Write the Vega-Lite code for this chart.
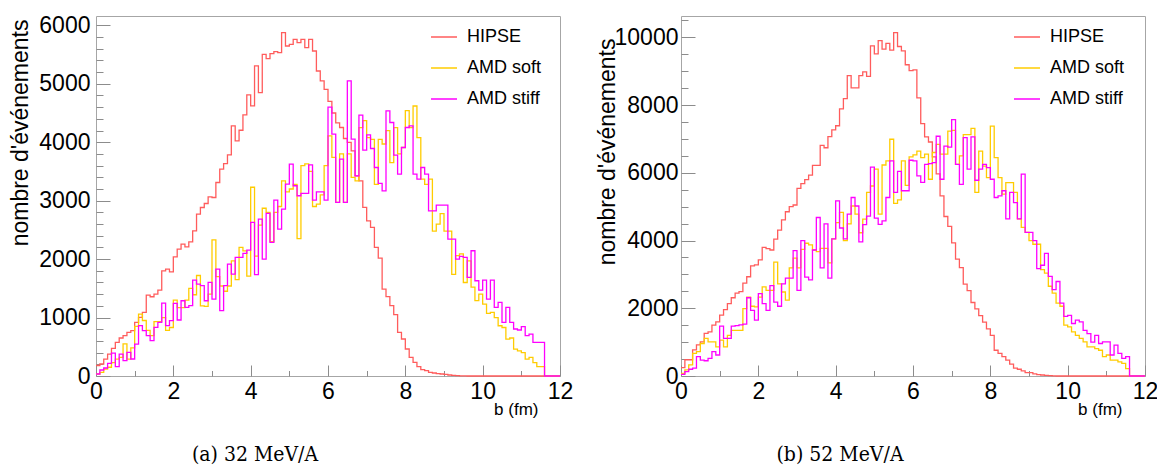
{
"$schema": "https://vega.github.io/schema/vega-lite/v6.json",
"background": "white",
"padding": {"left": 8, "top": 8, "right": 5, "bottom": 5},
"bounds": "flush",
"spacing": 121,
"config": {
  "view": {"stroke": "#a6a6a6", "strokeWidth": 1},
  "font": "Liberation Sans",
  "axis": {"grid": false, "domain": false, "tickColor": "#8c8c8c", "tickWidth": 1, "labelFont": "Liberation Sans", "labelColor": "black", "labelFontSize": 23, "labelOverlap": false, "labelFlush": false, "labelBound": false, "titleFont": "Liberation Sans", "titleFontWeight": "normal", "titleColor": "black"},
  "legend": {"orient": "none", "title": null, "symbolType": "stroke", "symbolSize": 676, "symbolStrokeWidth": 1.5, "labelFont": "Liberation Sans", "labelFontSize": 18, "labelColor": "black", "labelOffset": 9, "rowPadding": 8, "labelLimit": 0, "padding": 0},
  "title": {"font": "DejaVu Serif Condensed, Liberation Serif, serif", "fontSize": 21, "fontWeight": "normal", "color": "black"}
},
"resolve": {"scale": {"color": "independent"}, "legend": {"color": "independent"}},
"datasets": {
"a": [
{"b":0,"HIPSE":180,"AMD soft":34,"AMD stiff":34},
{"b":0.1,"HIPSE":205,"AMD soft":63,"AMD stiff":103},
{"b":0.2,"HIPSE":290,"AMD soft":120,"AMD stiff":137},
{"b":0.3,"HIPSE":376,"AMD soft":150,"AMD stiff":217},
{"b":0.4,"HIPSE":473,"AMD soft":230,"AMD stiff":393},
{"b":0.5,"HIPSE":575,"AMD soft":290,"AMD stiff":160},
{"b":0.6,"HIPSE":650,"AMD soft":320,"AMD stiff":376},
{"b":0.7,"HIPSE":690,"AMD soft":550,"AMD stiff":262},
{"b":0.8,"HIPSE":747,"AMD soft":290,"AMD stiff":405},
{"b":0.9,"HIPSE":775,"AMD soft":480,"AMD stiff":291},
{"b":1.0,"HIPSE":918,"AMD soft":850,"AMD stiff":547},
{"b":1.1,"HIPSE":1003,"AMD soft":1060,"AMD stiff":861},
{"b":1.2,"HIPSE":1088,"AMD soft":950,"AMD stiff":775},
{"b":1.3,"HIPSE":1385,"AMD soft":780,"AMD stiff":690},
{"b":1.4,"HIPSE":1356,"AMD soft":690,"AMD stiff":604},
{"b":1.5,"HIPSE":1402,"AMD soft":930,"AMD stiff":832},
{"b":1.6,"HIPSE":1470,"AMD soft":930,"AMD stiff":918},
{"b":1.7,"HIPSE":1800,"AMD soft":1000,"AMD stiff":1248},
{"b":1.8,"HIPSE":1830,"AMD soft":780,"AMD stiff":861},
{"b":1.9,"HIPSE":1783,"AMD soft":830,"AMD stiff":946},
{"b":2.0,"HIPSE":2040,"AMD soft":1300,"AMD stiff":1243},
{"b":2.1,"HIPSE":2171,"AMD soft":1170,"AMD stiff":958},
{"b":2.2,"HIPSE":2257,"AMD soft":1170,"AMD stiff":1288},
{"b":2.3,"HIPSE":2211,"AMD soft":1300,"AMD stiff":1174},
{"b":2.4,"HIPSE":2296,"AMD soft":1500,"AMD stiff":1203},
{"b":2.5,"HIPSE":2484,"AMD soft":1390,"AMD stiff":1642},
{"b":2.6,"HIPSE":2769,"AMD soft":1720,"AMD stiff":1573},
{"b":2.7,"HIPSE":2883,"AMD soft":1200,"AMD stiff":1545},
{"b":2.8,"HIPSE":2952,"AMD soft":1190,"AMD stiff":1288},
{"b":2.9,"HIPSE":3066,"AMD soft":1400,"AMD stiff":1602},
{"b":3.0,"HIPSE":3054,"AMD soft":2330,"AMD stiff":1317},
{"b":3.1,"HIPSE":3311,"AMD soft":1700,"AMD stiff":1830},
{"b":3.2,"HIPSE":3539,"AMD soft":1540,"AMD stiff":1117},
{"b":3.3,"HIPSE":3635,"AMD soft":1450,"AMD stiff":1545},
{"b":3.4,"HIPSE":3783,"AMD soft":1540,"AMD stiff":1915},
{"b":3.5,"HIPSE":4279,"AMD soft":1970,"AMD stiff":1744},
{"b":3.6,"HIPSE":4023,"AMD soft":1650,"AMD stiff":2029},
{"b":3.7,"HIPSE":4205,"AMD soft":2200,"AMD stiff":2029},
{"b":3.8,"HIPSE":4467,"AMD soft":2140,"AMD stiff":2098},
{"b":3.9,"HIPSE":4809,"AMD soft":1710,"AMD stiff":2155},
{"b":4.0,"HIPSE":4621,"AMD soft":3230,"AMD stiff":2628},
{"b":4.1,"HIPSE":5305,"AMD soft":2050,"AMD stiff":1733},
{"b":4.2,"HIPSE":4849,"AMD soft":2580,"AMD stiff":2685},
{"b":4.3,"HIPSE":5504,"AMD soft":2870,"AMD stiff":2001},
{"b":4.4,"HIPSE":5430,"AMD soft":2800,"AMD stiff":2782},
{"b":4.5,"HIPSE":5516,"AMD soft":2300,"AMD stiff":2286},
{"b":4.6,"HIPSE":5550,"AMD soft":2800,"AMD stiff":3010},
{"b":4.7,"HIPSE":5533,"AMD soft":2900,"AMD stiff":2514},
{"b":4.8,"HIPSE":5875,"AMD soft":3340,"AMD stiff":2856},
{"b":4.9,"HIPSE":5647,"AMD soft":3150,"AMD stiff":3283},
{"b":5.0,"HIPSE":5675,"AMD soft":3200,"AMD stiff":3625},
{"b":5.1,"HIPSE":5761,"AMD soft":3280,"AMD stiff":3255},
{"b":5.2,"HIPSE":5704,"AMD soft":2350,"AMD stiff":3084},
{"b":5.3,"HIPSE":5761,"AMD soft":3600,"AMD stiff":3124},
{"b":5.4,"HIPSE":5618,"AMD soft":3630,"AMD stiff":3124},
{"b":5.5,"HIPSE":5761,"AMD soft":3500,"AMD stiff":3614},
{"b":5.6,"HIPSE":5561,"AMD soft":2900,"AMD stiff":3010},
{"b":5.7,"HIPSE":5219,"AMD soft":2940,"AMD stiff":3150},
{"b":5.8,"HIPSE":5050,"AMD soft":3100,"AMD stiff":3150},
{"b":5.9,"HIPSE":4906,"AMD soft":3600,"AMD stiff":3010},
{"b":6.0,"HIPSE":4700,"AMD soft":4110,"AMD stiff":4600},
{"b":6.1,"HIPSE":4500,"AMD soft":3740,"AMD stiff":4138},
{"b":6.2,"HIPSE":4330,"AMD soft":2970,"AMD stiff":2970},
{"b":6.3,"HIPSE":4252,"AMD soft":3800,"AMD stiff":3711},
{"b":6.4,"HIPSE":4064,"AMD soft":2970,"AMD stiff":2970},
{"b":6.5,"HIPSE":3996,"AMD soft":3800,"AMD stiff":5050},
{"b":6.6,"HIPSE":3853,"AMD soft":3400,"AMD stiff":4053},
{"b":6.7,"HIPSE":3426,"AMD soft":3340,"AMD stiff":3426},
{"b":6.8,"HIPSE":3340,"AMD soft":4250,"AMD stiff":4463},
{"b":6.9,"HIPSE":2884,"AMD soft":4370,"AMD stiff":3865},
{"b":7.0,"HIPSE":2656,"AMD soft":4080,"AMD stiff":4127},
{"b":7.1,"HIPSE":2542,"AMD soft":4050,"AMD stiff":3893},
{"b":7.2,"HIPSE":2200,"AMD soft":3280,"AMD stiff":3568},
{"b":7.3,"HIPSE":2018,"AMD soft":4050,"AMD stiff":3295},
{"b":7.4,"HIPSE":1488,"AMD soft":3970,"AMD stiff":3169},
{"b":7.5,"HIPSE":1357,"AMD soft":4200,"AMD stiff":4537},
{"b":7.6,"HIPSE":1203,"AMD soft":3650,"AMD stiff":4338},
{"b":7.7,"HIPSE":1049,"AMD soft":4250,"AMD stiff":3779},
{"b":7.8,"HIPSE":747,"AMD soft":3800,"AMD stiff":3454},
{"b":7.9,"HIPSE":633,"AMD soft":3910,"AMD stiff":3910},
{"b":8.0,"HIPSE":462,"AMD soft":4540,"AMD stiff":4252},
{"b":8.1,"HIPSE":319,"AMD soft":4250,"AMD stiff":4281},
{"b":8.2,"HIPSE":234,"AMD soft":4620,"AMD stiff":3454},
{"b":8.3,"HIPSE":160,"AMD soft":4080,"AMD stiff":3369},
{"b":8.4,"HIPSE":108,"AMD soft":3370,"AMD stiff":3568},
{"b":8.5,"HIPSE":91,"AMD soft":3280,"AMD stiff":3454},
{"b":8.6,"HIPSE":63,"AMD soft":3370,"AMD stiff":2827},
{"b":8.7,"HIPSE":51,"AMD soft":2480,"AMD stiff":2827},
{"b":8.8,"HIPSE":40,"AMD soft":2600,"AMD stiff":2924},
{"b":8.9,"HIPSE":34,"AMD soft":2780,"AMD stiff":2924},
{"b":9.0,"HIPSE":28,"AMD soft":2480,"AMD stiff":2924},
{"b":9.1,"HIPSE":17,"AMD soft":2480,"AMD stiff":2343},
{"b":9.2,"HIPSE":11,"AMD soft":1740,"AMD stiff":2343},
{"b":9.3,"HIPSE":6,"AMD soft":2060,"AMD stiff":2000},
{"b":9.4,"HIPSE":3,"AMD soft":2090,"AMD stiff":2046},
{"b":9.5,"HIPSE":2,"AMD soft":1600,"AMD stiff":2029},
{"b":9.6,"HIPSE":0,"AMD soft":1970,"AMD stiff":1687},
{"b":9.7,"HIPSE":0,"AMD soft":1520,"AMD stiff":2143},
{"b":9.8,"HIPSE":0,"AMD soft":1290,"AMD stiff":1630},
{"b":9.9,"HIPSE":0,"AMD soft":1400,"AMD stiff":1470},
{"b":10.0,"HIPSE":0,"AMD soft":1230,"AMD stiff":1642},
{"b":10.1,"HIPSE":0,"AMD soft":1070,"AMD stiff":1317},
{"b":10.2,"HIPSE":0,"AMD soft":1090,"AMD stiff":1642},
{"b":10.3,"HIPSE":0,"AMD soft":1000,"AMD stiff":1174},
{"b":10.4,"HIPSE":0,"AMD soft":860,"AMD stiff":1260},
{"b":10.5,"HIPSE":0,"AMD soft":830,"AMD stiff":918},
{"b":10.6,"HIPSE":0,"AMD soft":630,"AMD stiff":1174},
{"b":10.7,"HIPSE":0,"AMD soft":650,"AMD stiff":918},
{"b":10.8,"HIPSE":0,"AMD soft":460,"AMD stiff":804},
{"b":10.9,"HIPSE":0,"AMD soft":430,"AMD stiff":787},
{"b":11.0,"HIPSE":0,"AMD soft":400,"AMD stiff":844},
{"b":11.1,"HIPSE":0,"AMD soft":290,"AMD stiff":690},
{"b":11.2,"HIPSE":0,"AMD soft":320,"AMD stiff":718},
{"b":11.3,"HIPSE":0,"AMD soft":230,"AMD stiff":576},
{"b":11.4,"HIPSE":0,"AMD soft":160,"AMD stiff":576},
{"b":11.5,"HIPSE":0,"AMD soft":160,"AMD stiff":576},
{"b":11.6,"HIPSE":0,"AMD soft":0,"AMD stiff":0},
{"b":11.7,"HIPSE":0,"AMD soft":0,"AMD stiff":0},
{"b":11.8,"HIPSE":0,"AMD soft":0,"AMD stiff":0},
{"b":11.9,"HIPSE":0,"AMD soft":0,"AMD stiff":0},
{"b":12.0,"HIPSE":0,"AMD soft":0,"AMD stiff":0}
],
"b": [
{"b":0,"HIPSE":250,"AMD soft":80,"AMD stiff":50},
{"b":0.1,"HIPSE":480,"AMD soft":180,"AMD stiff":130},
{"b":0.2,"HIPSE":480,"AMD soft":330,"AMD stiff":200},
{"b":0.3,"HIPSE":770,"AMD soft":670,"AMD stiff":230},
{"b":0.4,"HIPSE":920,"AMD soft":720,"AMD stiff":570},
{"b":0.5,"HIPSE":1010,"AMD soft":960,"AMD stiff":470},
{"b":0.6,"HIPSE":1260,"AMD soft":1110,"AMD stiff":450},
{"b":0.7,"HIPSE":1300,"AMD soft":1010,"AMD stiff":520},
{"b":0.8,"HIPSE":1500,"AMD soft":1010,"AMD stiff":720},
{"b":0.9,"HIPSE":1600,"AMD soft":860,"AMD stiff":620},
{"b":1.0,"HIPSE":1800,"AMD soft":1060,"AMD stiff":1470},
{"b":1.1,"HIPSE":1960,"AMD soft":860,"AMD stiff":1110},
{"b":1.2,"HIPSE":2140,"AMD soft":1200,"AMD stiff":1110},
{"b":1.3,"HIPSE":2310,"AMD soft":1350,"AMD stiff":1470},
{"b":1.4,"HIPSE":2450,"AMD soft":1350,"AMD stiff":1490},
{"b":1.5,"HIPSE":2490,"AMD soft":1350,"AMD stiff":1510},
{"b":1.6,"HIPSE":2740,"AMD soft":1990,"AMD stiff":1530},
{"b":1.7,"HIPSE":2930,"AMD soft":2330,"AMD stiff":2310},
{"b":1.8,"HIPSE":3250,"AMD soft":2060,"AMD stiff":1940},
{"b":1.9,"HIPSE":3280,"AMD soft":2040,"AMD stiff":1650},
{"b":2.0,"HIPSE":3430,"AMD soft":2330,"AMD stiff":2430},
{"b":2.1,"HIPSE":3800,"AMD soft":2630,"AMD stiff":2140},
{"b":2.2,"HIPSE":3760,"AMD soft":2530,"AMD stiff":1940},
{"b":2.3,"HIPSE":3720,"AMD soft":2530,"AMD stiff":2670},
{"b":2.4,"HIPSE":4040,"AMD soft":3360,"AMD stiff":2180},
{"b":2.5,"HIPSE":4310,"AMD soft":2720,"AMD stiff":2060},
{"b":2.6,"HIPSE":4610,"AMD soft":2480,"AMD stiff":2720},
{"b":2.7,"HIPSE":4850,"AMD soft":2240,"AMD stiff":2890},
{"b":2.8,"HIPSE":5000,"AMD soft":3190,"AMD stiff":2890},
{"b":2.9,"HIPSE":5050,"AMD soft":3480,"AMD stiff":3700},
{"b":3.0,"HIPSE":5540,"AMD soft":3190,"AMD stiff":2530},
{"b":3.1,"HIPSE":5680,"AMD soft":3740,"AMD stiff":4000},
{"b":3.2,"HIPSE":5800,"AMD soft":3920,"AMD stiff":2920},
{"b":3.3,"HIPSE":5930,"AMD soft":3870,"AMD stiff":2840},
{"b":3.4,"HIPSE":6220,"AMD soft":3720,"AMD stiff":3720},
{"b":3.5,"HIPSE":6220,"AMD soft":3670,"AMD stiff":4680},
{"b":3.6,"HIPSE":6810,"AMD soft":3770,"AMD stiff":3190},
{"b":3.7,"HIPSE":6740,"AMD soft":3770,"AMD stiff":4490},
{"b":3.8,"HIPSE":7070,"AMD soft":3340,"AMD stiff":2890},
{"b":3.9,"HIPSE":7270,"AMD soft":4050,"AMD stiff":4050},
{"b":4.0,"HIPSE":7390,"AMD soft":4530,"AMD stiff":5170},
{"b":4.1,"HIPSE":7890,"AMD soft":4830,"AMD stiff":4370},
{"b":4.2,"HIPSE":8190,"AMD soft":4000,"AMD stiff":4050},
{"b":4.3,"HIPSE":8870,"AMD soft":4490,"AMD stiff":4780},
{"b":4.4,"HIPSE":8510,"AMD soft":5020,"AMD stiff":5270},
{"b":4.5,"HIPSE":8510,"AMD soft":4780,"AMD stiff":5020},
{"b":4.6,"HIPSE":8870,"AMD soft":4230,"AMD stiff":3960},
{"b":4.7,"HIPSE":8980,"AMD soft":4630,"AMD stiff":4470},
{"b":4.8,"HIPSE":8850,"AMD soft":5420,"AMD stiff":4720},
{"b":4.9,"HIPSE":9750,"AMD soft":5610,"AMD stiff":6170},
{"b":5.0,"HIPSE":9510,"AMD soft":6110,"AMD stiff":4660},
{"b":5.1,"HIPSE":9900,"AMD soft":4780,"AMD stiff":4480},
{"b":5.2,"HIPSE":9650,"AMD soft":6230,"AMD stiff":4580},
{"b":5.3,"HIPSE":9820,"AMD soft":6350,"AMD stiff":5270},
{"b":5.4,"HIPSE":9620,"AMD soft":6990,"AMD stiff":6350},
{"b":5.5,"HIPSE":10140,"AMD soft":5100,"AMD stiff":5420},
{"b":5.6,"HIPSE":9730,"AMD soft":5200,"AMD stiff":6040},
{"b":5.7,"HIPSE":9600,"AMD soft":6350,"AMD stiff":5470},
{"b":5.8,"HIPSE":9190,"AMD soft":5630,"AMD stiff":5470},
{"b":5.9,"HIPSE":9020,"AMD soft":6470,"AMD stiff":6370},
{"b":6.0,"HIPSE":9040,"AMD soft":6530,"AMD stiff":6350},
{"b":6.1,"HIPSE":8210,"AMD soft":6640,"AMD stiff":5910},
{"b":6.2,"HIPSE":7450,"AMD soft":6450,"AMD stiff":5720},
{"b":6.3,"HIPSE":7060,"AMD soft":6550,"AMD stiff":6250},
{"b":6.4,"HIPSE":6910,"AMD soft":5810,"AMD stiff":6270},
{"b":6.5,"HIPSE":6470,"AMD soft":6600,"AMD stiff":6300},
{"b":6.6,"HIPSE":5970,"AMD soft":6840,"AMD stiff":7080},
{"b":6.7,"HIPSE":5320,"AMD soft":6550,"AMD stiff":5810},
{"b":6.8,"HIPSE":4710,"AMD soft":6550,"AMD stiff":6790},
{"b":6.9,"HIPSE":4420,"AMD soft":7230,"AMD stiff":6760},
{"b":7.0,"HIPSE":3930,"AMD soft":7250,"AMD stiff":7570},
{"b":7.1,"HIPSE":3450,"AMD soft":6250,"AMD stiff":6250},
{"b":7.2,"HIPSE":3200,"AMD soft":6500,"AMD stiff":5660},
{"b":7.3,"HIPSE":2710,"AMD soft":7130,"AMD stiff":7040},
{"b":7.4,"HIPSE":2520,"AMD soft":7130,"AMD stiff":6110},
{"b":7.5,"HIPSE":2170,"AMD soft":7310,"AMD stiff":7060},
{"b":7.6,"HIPSE":1980,"AMD soft":5420,"AMD stiff":5780},
{"b":7.7,"HIPSE":1780,"AMD soft":6640,"AMD stiff":6110},
{"b":7.8,"HIPSE":1590,"AMD soft":6200,"AMD stiff":6250},
{"b":7.9,"HIPSE":1390,"AMD soft":5860,"AMD stiff":6150},
{"b":8.0,"HIPSE":1200,"AMD soft":7380,"AMD stiff":5810},
{"b":8.1,"HIPSE":760,"AMD soft":6450,"AMD stiff":5270},
{"b":8.2,"HIPSE":670,"AMD soft":5860,"AMD stiff":5320},
{"b":8.3,"HIPSE":570,"AMD soft":5370,"AMD stiff":5470},
{"b":8.4,"HIPSE":470,"AMD soft":5710,"AMD stiff":4640},
{"b":8.5,"HIPSE":350,"AMD soft":5710,"AMD stiff":5420},
{"b":8.6,"HIPSE":230,"AMD soft":5420,"AMD stiff":5120},
{"b":8.7,"HIPSE":200,"AMD soft":4640,"AMD stiff":4640},
{"b":8.8,"HIPSE":150,"AMD soft":4390,"AMD stiff":5960},
{"b":8.9,"HIPSE":100,"AMD soft":4240,"AMD stiff":4240},
{"b":9.0,"HIPSE":100,"AMD soft":4000,"AMD stiff":4240},
{"b":9.1,"HIPSE":60,"AMD soft":3890,"AMD stiff":4000},
{"b":9.2,"HIPSE":40,"AMD soft":3890,"AMD stiff":3170},
{"b":9.3,"HIPSE":30,"AMD soft":3140,"AMD stiff":3270},
{"b":9.4,"HIPSE":20,"AMD soft":3040,"AMD stiff":3620},
{"b":9.5,"HIPSE":10,"AMD soft":2650,"AMD stiff":2940},
{"b":9.6,"HIPSE":5,"AMD soft":2450,"AMD stiff":2550},
{"b":9.7,"HIPSE":0,"AMD soft":2150,"AMD stiff":2790},
{"b":9.8,"HIPSE":0,"AMD soft":2060,"AMD stiff":2150},
{"b":9.9,"HIPSE":0,"AMD soft":1500,"AMD stiff":1760},
{"b":10.0,"HIPSE":0,"AMD soft":1450,"AMD stiff":1790},
{"b":10.1,"HIPSE":0,"AMD soft":1300,"AMD stiff":1550},
{"b":10.2,"HIPSE":0,"AMD soft":1200,"AMD stiff":1650},
{"b":10.3,"HIPSE":0,"AMD soft":1110,"AMD stiff":1600},
{"b":10.4,"HIPSE":0,"AMD soft":1010,"AMD stiff":1350},
{"b":10.5,"HIPSE":0,"AMD soft":860,"AMD stiff":1250},
{"b":10.6,"HIPSE":0,"AMD soft":860,"AMD stiff":1000},
{"b":10.7,"HIPSE":0,"AMD soft":810,"AMD stiff":1200},
{"b":10.8,"HIPSE":0,"AMD soft":760,"AMD stiff":960},
{"b":10.9,"HIPSE":0,"AMD soft":570,"AMD stiff":1010},
{"b":11.0,"HIPSE":0,"AMD soft":620,"AMD stiff":1010},
{"b":11.1,"HIPSE":0,"AMD soft":470,"AMD stiff":620},
{"b":11.2,"HIPSE":0,"AMD soft":470,"AMD stiff":910},
{"b":11.3,"HIPSE":0,"AMD soft":420,"AMD stiff":670},
{"b":11.4,"HIPSE":0,"AMD soft":370,"AMD stiff":520},
{"b":11.5,"HIPSE":0,"AMD soft":220,"AMD stiff":570},
{"b":11.6,"HIPSE":0,"AMD soft":0,"AMD stiff":0},
{"b":11.7,"HIPSE":0,"AMD soft":0,"AMD stiff":0},
{"b":11.8,"HIPSE":0,"AMD soft":0,"AMD stiff":0},
{"b":11.9,"HIPSE":0,"AMD soft":0,"AMD stiff":0},
{"b":12.0,"HIPSE":0,"AMD soft":0,"AMD stiff":0}
]
},
"hconcat": [
{
  "width": 464, "height": 360,
  "view": {"stroke": "#a6a6a6", "strokeWidth": 1},
  "data": {"name": "a"},
  "transform": [{"fold": ["HIPSE", "AMD soft", "AMD stiff"], "as": ["series", "n"]}],
  "mark": {"type": "line", "interpolate": "step-after", "strokeWidth": 1.3},
  "title": {"text": "(a) 32 MeV/A", "orient": "bottom", "offset": 27, "dx": -73},
  "encoding": {
    "x": {"field": "b", "type": "quantitative", "scale": {"domain": [0, 12], "nice": false},
      "axis": {"values": [0,0.5,1,1.5,2,2.5,3,3.5,4,4.5,5,5.5,6,6.5,7,7.5,8,8.5,9,9.5,10,10.5,11,11.5,12],
        "format": "d",
        "labelExpr": "datum.value % 2 === 0 ? datum.label : ''",
        "tickSize": {"condition": {"test": "datum.value % 2 === 0", "value": -11}, "value": -5.5},
        "labelPadding": 15,
        "title": "b (fm)", "titleFontSize": 17, "titleX": 442, "titleY": 38, "titleAlign": "right", "titleBaseline": "alphabetic"}},
    "y": {"field": "n", "type": "quantitative", "scale": {"domain": [0, 6160], "nice": false},
      "axis": {"values": [0,200,400,600,800,1000,1200,1400,1600,1800,2000,2200,2400,2600,2800,3000,3200,3400,3600,3800,4000,4200,4400,4600,4800,5000,5200,5400,5600,5800,6000],
        "format": "d",
        "labelExpr": "datum.value % 1000 === 0 ? datum.label : ''",
        "tickSize": {"condition": {"test": "datum.value % 1000 === 0", "value": -14}, "value": -7},
        "labelPadding": 20,
        "title": "nombre d'événements", "titleFontSize": 23, "titleX": -76, "titleY": 3, "titleAlign": "right", "titleBaseline": "middle", "titleAngle": -90}},
    "color": {"field": "series", "type": "nominal",
      "scale": {"domain": ["HIPSE", "AMD soft", "AMD stiff"], "range": ["#ff5c5c", "#ffcc00", "#ff00ff"]},
      "legend": {"legendX": 334, "legendY": 7}}
  }
},
{
  "width": 464, "height": 360,
  "view": {"stroke": "#a6a6a6", "strokeWidth": 1},
  "data": {"name": "b"},
  "transform": [{"fold": ["HIPSE", "AMD soft", "AMD stiff"], "as": ["series", "n"]}],
  "mark": {"type": "line", "interpolate": "step-after", "strokeWidth": 1.3},
  "title": {"text": "(b) 52 MeV/A", "orient": "bottom", "offset": 27, "dx": -73},
  "encoding": {
    "x": {"field": "b", "type": "quantitative", "scale": {"domain": [0, 12], "nice": false},
      "axis": {"values": [0,0.5,1,1.5,2,2.5,3,3.5,4,4.5,5,5.5,6,6.5,7,7.5,8,8.5,9,9.5,10,10.5,11,11.5,12],
        "format": "d",
        "labelExpr": "datum.value % 2 === 0 ? datum.label : ''",
        "tickSize": {"condition": {"test": "datum.value % 2 === 0", "value": -11}, "value": -5.5},
        "labelPadding": 15,
        "title": "b (fm)", "titleFontSize": 17, "titleX": 441, "titleY": 38, "titleAlign": "right", "titleBaseline": "alphabetic"}},
    "y": {"field": "n", "type": "quantitative", "scale": {"domain": [0, 10630], "nice": false},
      "axis": {"values": [0,500,1000,1500,2000,2500,3000,3500,4000,4500,5000,5500,6000,6500,7000,7500,8000,8500,9000,9500,10000,10500],
        "format": "d",
        "labelExpr": "datum.value % 2000 === 0 ? datum.label : ''",
        "tickSize": {"condition": {"test": "datum.value % 2000 === 0", "value": -14}, "value": -7},
        "labelPadding": 17,
        "title": "nombre d'événements", "titleFontSize": 23, "titleX": -74, "titleY": 22, "titleAlign": "right", "titleBaseline": "middle", "titleAngle": -90}},
    "color": {"field": "series", "type": "nominal",
      "scale": {"domain": ["HIPSE", "AMD soft", "AMD stiff"], "range": ["#ff5c5c", "#ffcc00", "#ff00ff"]},
      "legend": {"legendX": 332, "legendY": 7}}
  }
}
]
}
